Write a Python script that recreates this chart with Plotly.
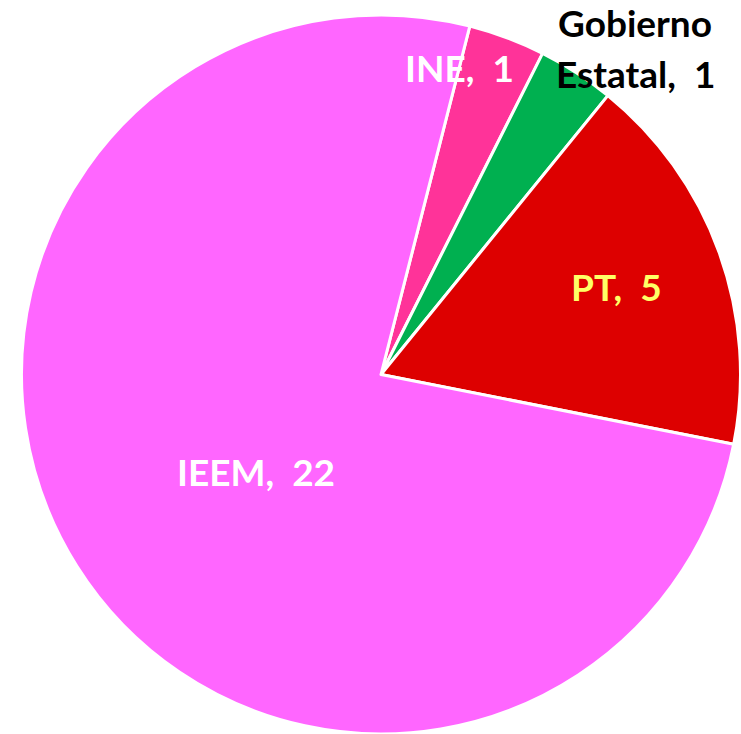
import math
import plotly.graph_objects as go

# ---- data ----
labels = ["INE", "Gobierno Estatal", "PT", "IEEM"]
values = [1, 1, 5, 22]
label_texts = ["INE,\u00a0 1", "Gobierno<br>Estatal,\u00a0 1", "PT,\u00a0 5", "IEEM,\u00a0 22"]

# ---- style ----
colors = ["#FF3399", "#00B050", "#DD0000", "#FF66FF"]
text_colors = ["#FFFFFF", "#000000", "#FFFF66", "#FFFFFF"]
rotation = 14.3
# label placement: (radius fraction, angular offset in degrees from slice mid)
label_place = [(0.88, -6.2), (1.15, 5.0), (0.70, -0.7), (0.44, -5.6)]
FONT_SIZE = 37
LINE_GAP = 51

W, H = 741, 734
dom_x = [21 / W, 1.0]
dom_y = [0.0, 1 - 15 / H]

fig = go.Figure(go.Pie(
    labels=labels,
    values=values,
    sort=False,
    direction="clockwise",
    rotation=rotation,
    marker=dict(colors=colors, line=dict(color="white", width=3)),
    textinfo="none",
    hoverinfo="label+value",
    domain=dict(x=dom_x, y=dom_y),
    showlegend=False,
))

# geometry of the pie in pixels (figure coordinates)
wpx = (dom_x[1] - dom_x[0]) * W
hpx = (dom_y[1] - dom_y[0]) * H
R = min(wpx, hpx) / 2
cx = (dom_x[0] + dom_x[1]) / 2 * W
cy = H - (dom_y[0] + dom_y[1]) / 2 * H

total = sum(values)
cum = 0
annotations = []
for lab, v, txt, col, (rf, off) in zip(labels, values, label_texts, text_colors, label_place):
    mid = rotation + (cum + v / 2) / total * 360 + off
    cum += v
    a = math.radians(mid)
    px = cx + rf * R * math.sin(a)
    py = cy - rf * R * math.cos(a)
    lines = txt.split("<br>")
    n = len(lines)
    for i, line in enumerate(lines):
        ly = py + (i - (n - 1) / 2) * LINE_GAP
        annotations.append(dict(
            x=px / W, y=1 - ly / H, xref="paper", yref="paper",
            text="<b>" + line + "</b>", showarrow=False,
            xanchor="center", yanchor="middle",
            font=dict(family="Lato, Roboto, sans-serif", size=FONT_SIZE, color=col),
        ))

fig.update_layout(
    width=W, height=H,
    margin=dict(l=0, r=0, t=0, b=0),
    paper_bgcolor="white",
    plot_bgcolor="white",
    annotations=annotations,
)

fig.write_html(
    "out.html",
    config={"displayModeBar": False},
    post_script="document.body.style.margin='0px'; document.body.style.overflow='hidden';",
)
